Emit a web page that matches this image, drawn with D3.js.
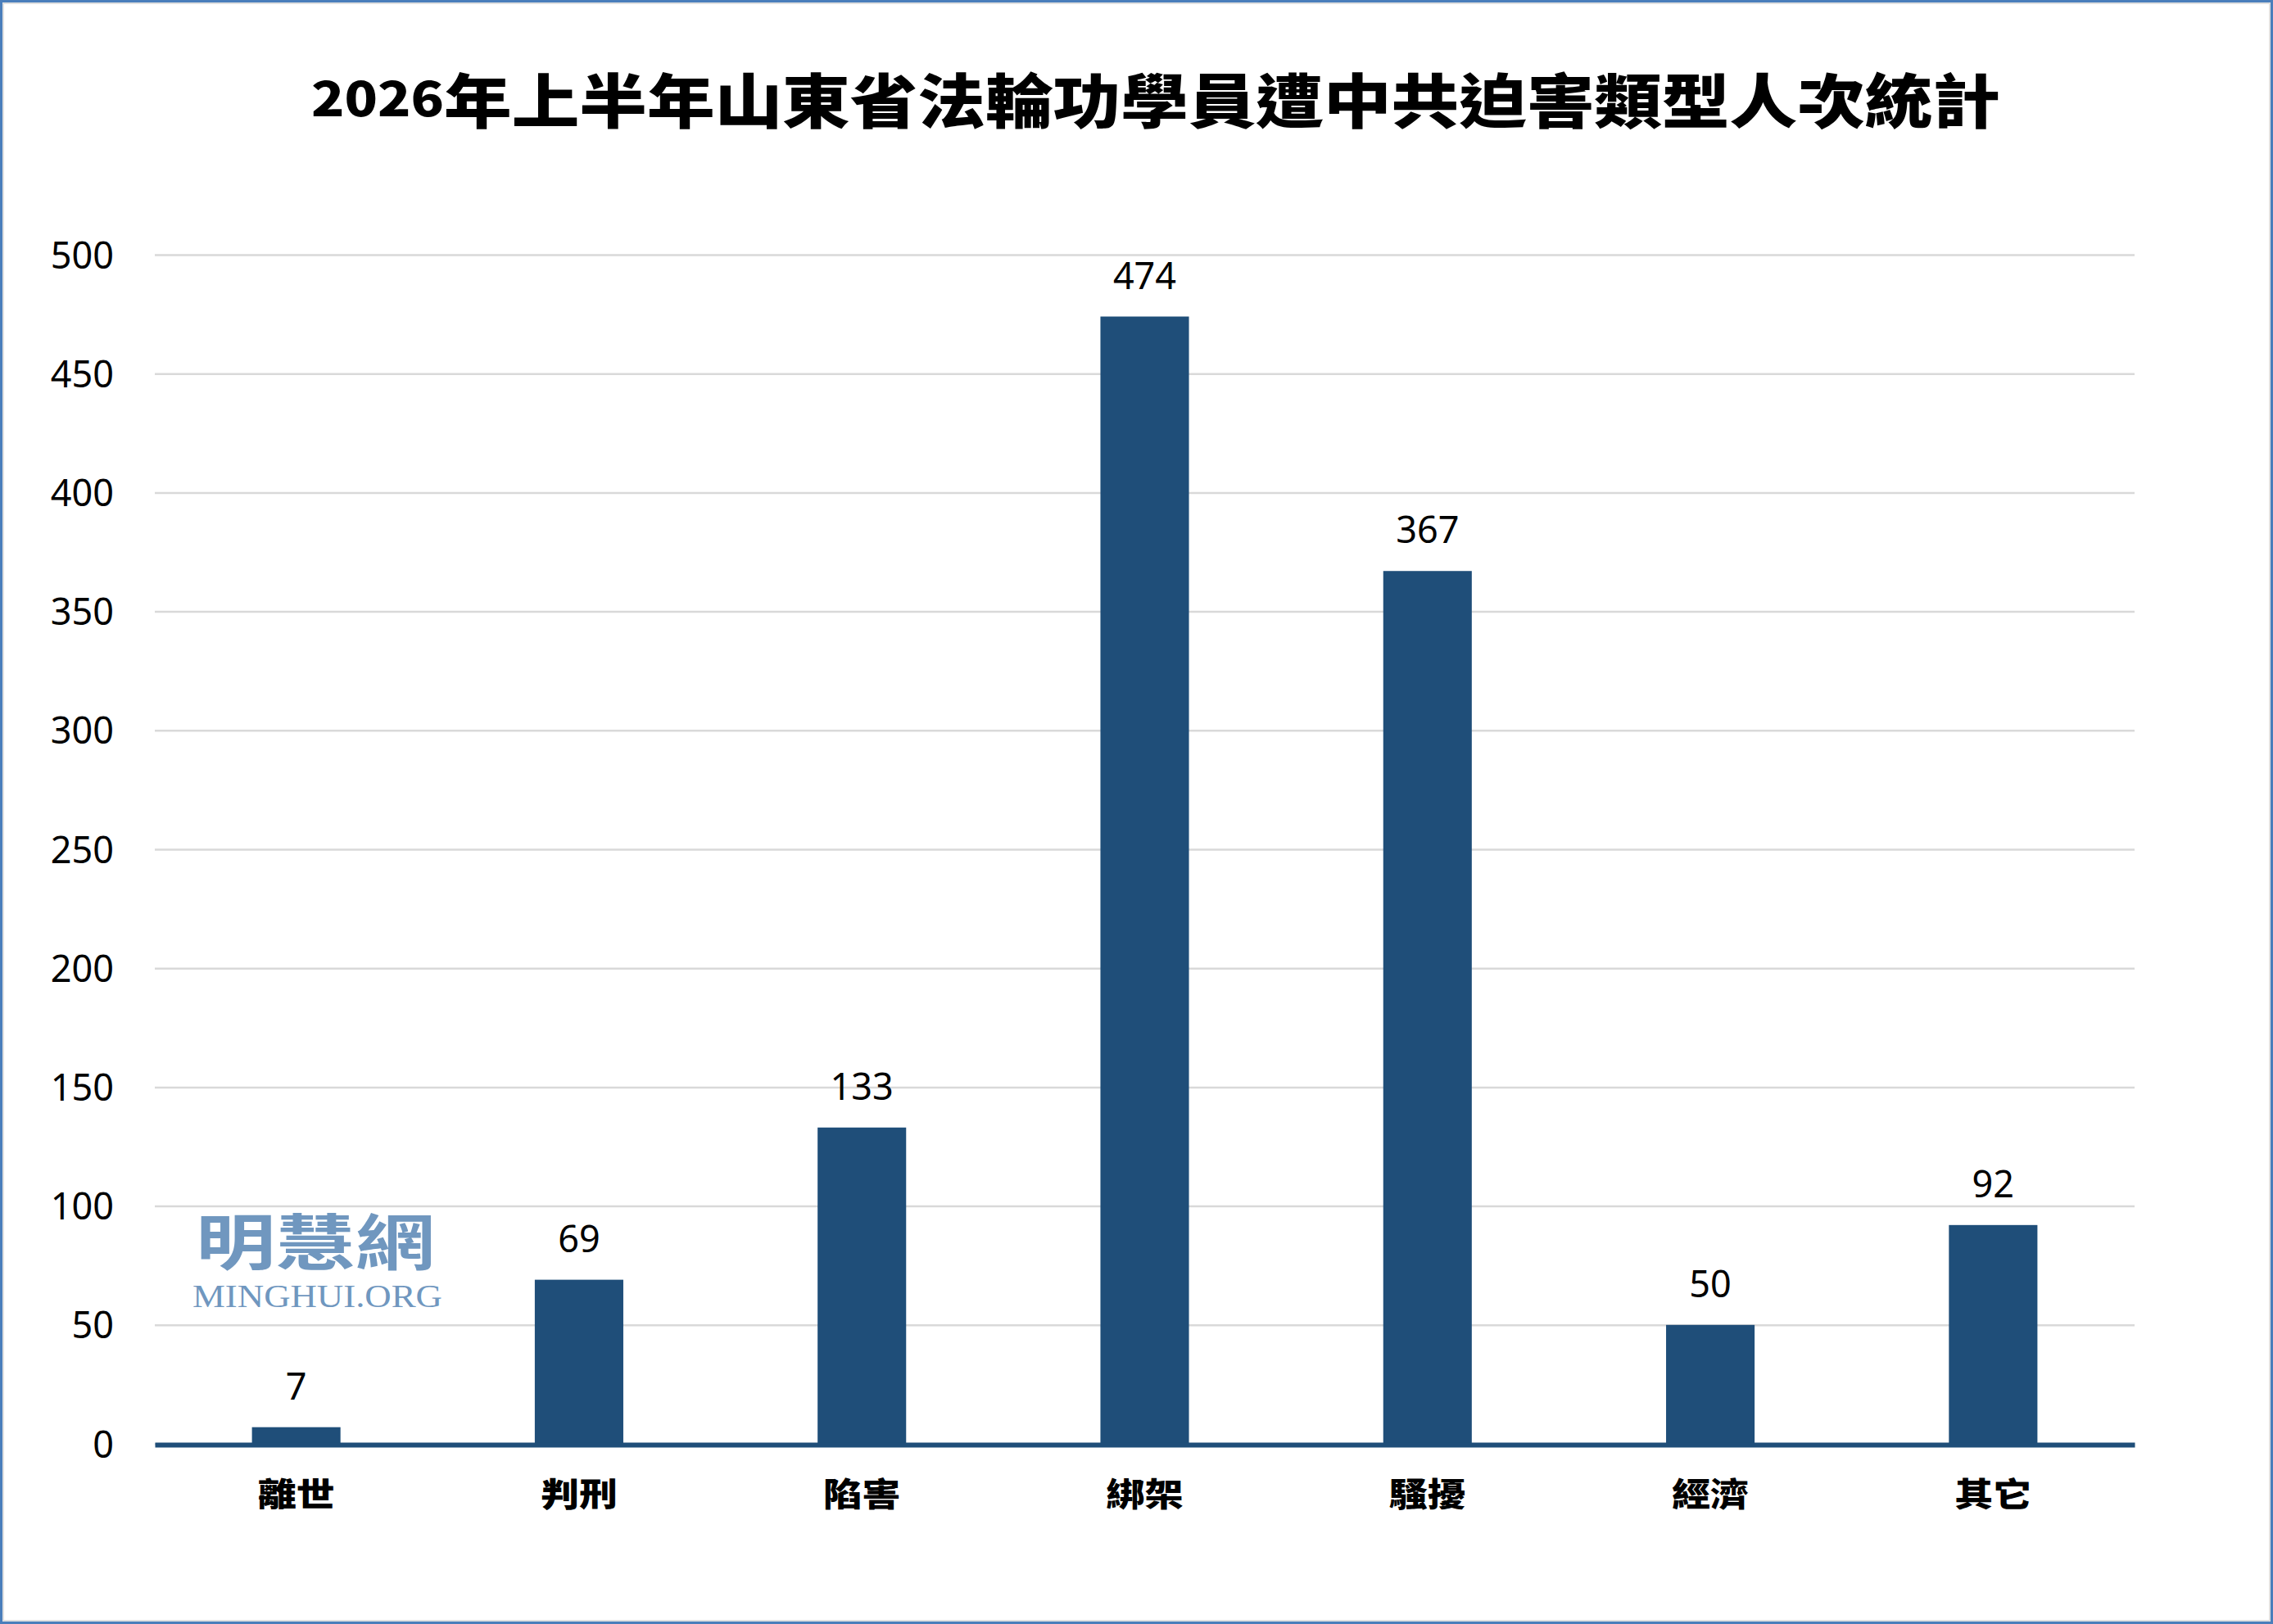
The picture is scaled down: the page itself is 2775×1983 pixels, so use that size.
<!DOCTYPE html>
<html>
<head>
<meta charset="utf-8">
<script src="https://cdn.jsdelivr.net/npm/d3@7"></script>
<style>
  html, body { margin: 0; padding: 0; background: #fff; }
  svg { display: block; }
</style>
</head>
<body>
<div id="chart"></div>
<script>
// chart data
const categories = ["離世", "判刑", "陷害", "綁架", "騷擾", "經濟", "其它"];
const counts = [7, 69, 133, 474, 367, 50, 92];
const yTicks = [0, 50, 100, 150, 200, 250, 300, 350, 400, 450, 500];
const titleYear = "2026";
const titleRest = "年上半年山東省法輪功學員遭中共迫害類型人次統計";

const W = 2775, H = 1983;
const margin = { top: 311, right: 169, bottom: 220, left: 189 };
const width = W - margin.left - margin.right;
const height = H - margin.top - margin.bottom;

const barColor = "#1f4e79";
const cjk = "'Noto Sans CJK TC', 'Noto Sans CJK SC', sans-serif";
const latin = "'Noto Sans', 'Open Sans', sans-serif";

const svg = d3.select("#chart").append("svg")
    .attr("width", W)
    .attr("height", H);

// frame
svg.append("rect")
    .attr("x", 0).attr("y", 0).attr("width", W).attr("height", H)
    .attr("fill", "#fff");
svg.append("rect")
    .attr("x", 1.5).attr("y", 1.5).attr("width", W - 3).attr("height", H - 3)
    .attr("fill", "none").attr("stroke", "#4a7ebb").attr("stroke-width", 3);
svg.append("rect")
    .attr("x", 4).attr("y", 4).attr("width", W - 8).attr("height", H - 8)
    .attr("fill", "none").attr("stroke", "#d6d6d6").attr("stroke-width", 1.5);

// title
const title = svg.append("text")
    .attr("x", 380)
    .attr("y", 150)
    .attr("textLength", 2062)
    .attr("lengthAdjust", "spacingAndGlyphs")
    .attr("font-family", cjk)
    .attr("font-weight", 900)
    .attr("fill", "#000");
title.append("tspan").attr("font-size", 58).attr("dy", -8).text(titleYear);
title.append("tspan").attr("font-size", 72).attr("dy", 8).text(titleRest);

const g = svg.append("g")
    .attr("transform", "translate(" + margin.left + "," + margin.top + ")");

const x = d3.scaleBand()
    .domain(categories)
    .range([0, width])
    .paddingInner(0.687)
    .paddingOuter(0.3435);

const y = d3.scaleLinear()
    .domain([0, 500])
    .range([height, 0]);

// y axis with gridlines
const yAxis = g.append("g")
    .call(d3.axisLeft(y).tickValues(yTicks).tickSize(-width).tickPadding(50));
yAxis.select(".domain").remove();
yAxis.selectAll(".tick line")
    .attr("stroke", "#d9d9d9")
    .attr("stroke-width", 2.5);
yAxis.selectAll(".tick text")
    .attr("font-family", latin)
    .attr("font-size", 45)
    .attr("fill", "#000")
    .attr("dy", 16);

// watermark
const wm = g.append("g").attr("fill", "#7097bf");
wm.append("text")
    .attr("x", 239 - margin.left)
    .attr("y", 1544 - margin.top)
    .attr("textLength", 292)
    .attr("lengthAdjust", "spacingAndGlyphs")
    .attr("font-family", cjk)
    .attr("font-weight", 700)
    .attr("font-size", 74)
    .text("明慧網");
wm.append("text")
    .attr("x", 235 - margin.left)
    .attr("y", 1596 - margin.top)
    .attr("textLength", 305)
    .attr("lengthAdjust", "spacingAndGlyphs")
    .attr("font-family", "'Liberation Serif', 'DejaVu Serif', serif")
    .attr("font-size", 40)
    .text("MINGHUI.ORG");

// bars
g.selectAll(".bar")
    .data(counts)
    .join("rect")
    .attr("class", "bar")
    .attr("x", (d, i) => x(categories[i]))
    .attr("y", d => y(d))
    .attr("width", x.bandwidth())
    .attr("height", d => y(0) - y(d))
    .attr("fill", barColor);

// value labels
g.selectAll(".val")
    .data(counts)
    .join("text")
    .attr("class", "val")
    .attr("x", (d, i) => x(categories[i]) + x.bandwidth() / 2)
    .attr("y", d => y(d) - 34)
    .attr("text-anchor", "middle")
    .attr("font-family", latin)
    .attr("font-size", 45)
    .attr("fill", "#000")
    .text(d => d);

// x axis
const xAxis = g.append("g")
    .attr("transform", "translate(0," + y(0) + ")")
    .call(d3.axisBottom(x).tickSize(0).tickPadding(0));
xAxis.select(".domain")
    .attr("stroke", barColor)
    .attr("stroke-width", 6)
    .attr("transform", "translate(0,1)");
xAxis.selectAll(".tick text")
    .attr("y", 1839 - 1763)
    .attr("dy", 0)
    .attr("font-family", cjk)
    .attr("font-weight", 900)
    .attr("font-size", 40)
    .attr("fill", "#000")
    .attr("text-anchor", "start")
    .attr("x", -47)
    .attr("textLength", 94)
    .attr("lengthAdjust", "spacingAndGlyphs");
</script>
</body>
</html>
